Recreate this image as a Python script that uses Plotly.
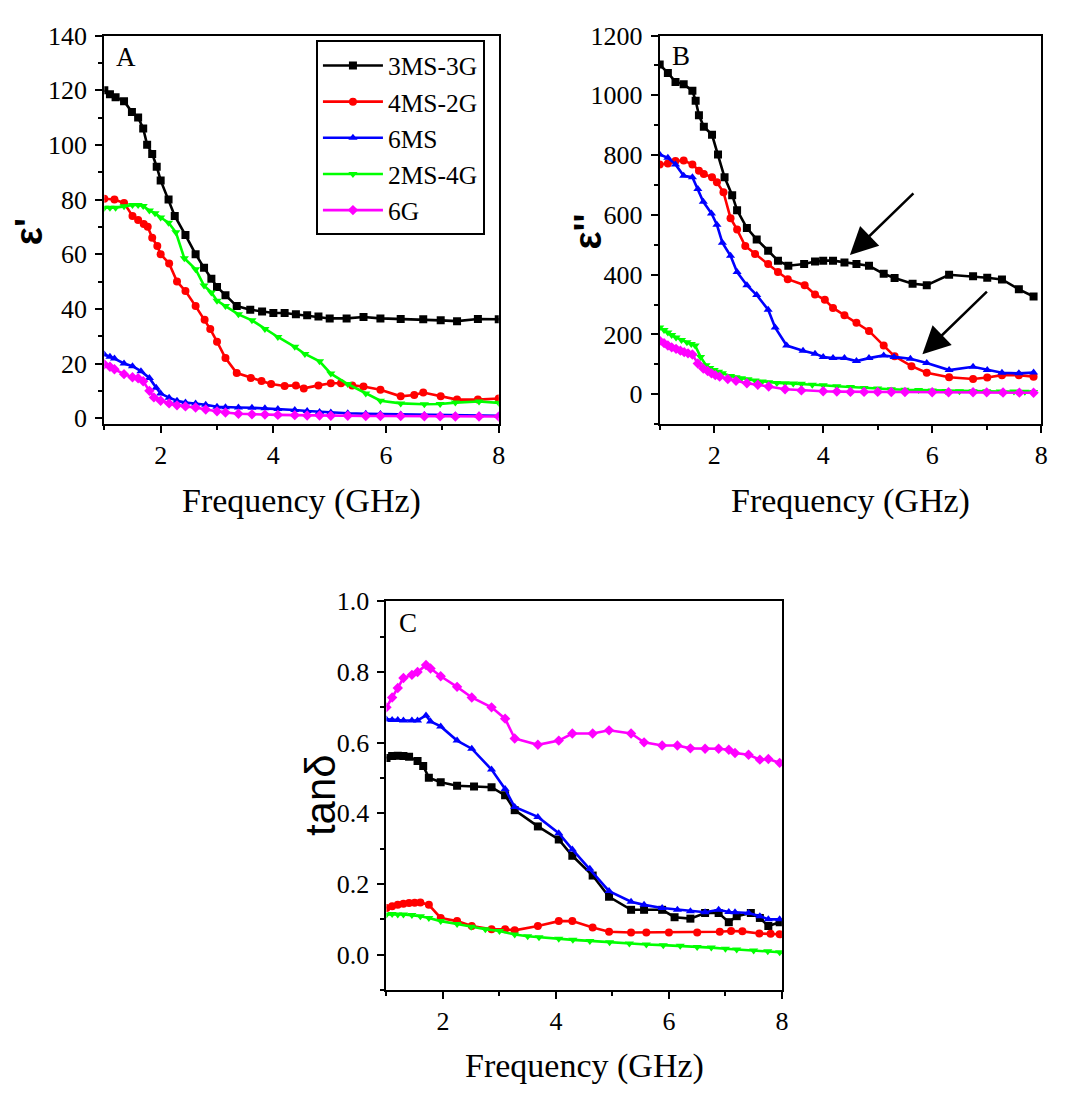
import plotly.graph_objects as go

# ---------------- Panel A: epsilon' ----------------
fa_3ms3g = [1.0,1.1,1.2,1.35,1.49,1.6,1.69,1.76,1.85,1.93,2.0,2.14,2.25,2.44,2.62,2.77,2.9,3.0,3.15,3.35,3.59,3.8,4.0,4.2,4.4,4.6,4.8,5.0,5.3,5.6,5.9,6.26,6.66,6.97,7.26,7.63,8.0]
ea_3ms3g = [120,118.5,117.4,116,112,110,106,100,96.7,92,87,80,74,67,60,55,51,48,45,41,39.7,39,38.5,38.5,38,37.7,37.2,36.5,36.5,37,36.5,36.3,36.2,35.8,35.5,36.3,36.2]

fa_4ms2g = [1.0,1.18,1.35,1.5,1.6,1.7,1.77,1.85,1.94,2.0,2.15,2.29,2.44,2.62,2.78,2.88,3.0,3.15,3.35,3.6,3.79,3.96,4.2,4.4,4.54,4.8,5.02,5.2,5.4,5.6,5.9,6.26,6.5,6.66,6.97,7.26,7.63,8.0]
ea_4ms2g = [80.3,80,78.7,74,72.5,71,70,66,63,60,56.6,50,46.5,41,36,32.6,28,22,16.5,14.7,13.6,12.5,11.8,12,10.9,12,12.8,12.8,12,11.6,10.4,8,8.5,9.4,8,6.8,6.8,7.2]

fa_6ms = [1.0,1.1,1.18,1.35,1.5,1.65,1.8,1.92,2.0,2.15,2.29,2.44,2.62,2.8,3.0,3.15,3.38,3.62,3.85,4.08,4.38,4.6,4.82,5.02,5.32,5.64,5.9,6.26,6.68,6.96,7.23,7.65,8.0]
ea_6ms = [23.3,22.5,21.8,20,19,17.2,14.7,11.1,9,7.5,6.4,5.7,5.4,4.9,4.2,4,3.9,3.8,3.6,3.4,3,2.6,2.3,2.1,1.8,1.6,1.5,1.3,1.2,1.1,1.0,1.0,0.9]

fa_2ms4g = [1.0,1.1,1.2,1.35,1.5,1.6,1.69,1.8,1.9,2.0,2.14,2.27,2.42,2.62,2.77,2.9,3.0,3.15,3.38,3.62,3.85,4.08,4.38,4.56,4.82,5.02,5.32,5.64,5.9,6.26,6.68,6.96,7.23,7.65,8.0]
ea_2ms4g = [77,77,77,77.5,78,78,77.6,76,75,73.4,71.5,68,58.5,54.5,48.5,46,43,41,38,35.8,32.6,29.7,26.1,23.5,20.8,16.3,12.5,9,6.4,5.4,5.1,5.2,5.7,6.1,5.6]

fa_6g = [1.0,1.1,1.18,1.35,1.5,1.6,1.69,1.8,1.88,2.0,2.15,2.29,2.44,2.62,2.8,3.0,3.15,3.38,3.62,3.85,4.08,4.38,4.6,4.82,5.02,5.32,5.64,5.9,6.26,6.68,6.96,7.23,7.65,8.0]
ea_6g = [19.7,18.8,17.9,16.1,15,14.6,13.5,10,7.6,6.4,5.4,4.7,4.3,3.9,3.2,2.5,2.1,1.6,1.4,1.3,1.2,1.1,1.0,1.0,0.9,0.9,0.8,0.8,0.8,0.7,0.7,0.6,0.6,0.6]

# ---------------- Panel B: epsilon'' ----------------
fb_3ms3g = [1.0,1.15,1.29,1.44,1.6,1.66,1.72,1.81,1.96,2.07,2.19,2.33,2.42,2.6,2.78,2.99,3.17,3.36,3.65,3.85,4.0,4.18,4.39,4.61,4.84,5.11,5.31,5.64,5.9,6.31,6.75,7.01,7.28,7.59,7.86]
eb_3ms3g = [1103,1075,1045,1037,1015,982,933,895,868,802,726,666,616,556,518,480,447,430,436,444,447,447,441,436,430,403,389,370,365,400,395,390,384,351,327]

fb_4ms2g = [1.0,1.15,1.29,1.44,1.6,1.72,1.81,1.96,2.05,2.17,2.3,2.42,2.57,2.75,2.99,3.17,3.35,3.66,3.85,4.03,4.18,4.39,4.61,4.84,5.11,5.31,5.62,5.9,6.31,6.75,7.01,7.28,7.59,7.86]
eb_4ms2g = [769,772,780,782,769,748,737,726,709,676,589,551,496,469,436,409,385,365,334,316,289,264,239,212,163,127,94,72,57,51,56,64,64,59]

fb_6ms = [1.0,1.15,1.29,1.44,1.6,1.7,1.8,1.95,2.05,2.15,2.3,2.42,2.6,2.78,2.99,3.12,3.33,3.63,3.85,4.0,4.18,4.39,4.61,4.84,5.11,5.3,5.6,5.9,6.31,6.75,7.01,7.28,7.59,7.86]
eb_6ms = [802,791,769,731,726,687,644,605,567,507,463,409,365,332,283,223,163,146,136,125,121,121,111,121,130,125,119,105,81,92,81,72,70,73]

fb_2ms4g = [1.0,1.08,1.15,1.22,1.3,1.4,1.5,1.58,1.65,1.75,1.85,1.92,2.0,2.08,2.15,2.3,2.4,2.5,2.62,2.75,2.88,3.0,3.15,3.3,3.45,3.6,3.8,4.0,4.25,4.5,4.75,5.0,5.25,5.5,5.75,6.0,6.25,6.5,6.75,7.0,7.25,7.5,7.7,7.86]
eb_2ms4g = [223,215,207,198,190,182,174,168,163,125,97,88,81,75,70,61,57,54,50,46,43,40,38,37,36,35,32,30,27,24,21,19,17,15,14,13,11,10,10,10,9.5,9,8.5,8]

fb_6g = [1.0,1.08,1.15,1.22,1.3,1.38,1.45,1.52,1.6,1.7,1.8,1.88,1.95,2.02,2.1,2.25,2.4,2.6,2.8,3.0,3.3,3.6,4.0,4.25,4.5,4.75,5.0,5.25,5.5,6.0,6.3,6.75,7.0,7.3,7.6,7.86]
eb_6g = [179,171,163,157,152,146,141,137,133,103,86,78,70,64,59,51,45,37,32,26,17,13,10,9,8,8,8,7.5,7.5,7,7,7,6.5,6,5.5,5]

# ---------------- Panel C: tan delta ----------------
fc_3ms3g = [1.0,1.1,1.2,1.3,1.4,1.55,1.65,1.75,1.96,2.25,2.55,2.86,3.1,3.27,3.68,4.05,4.29,4.65,4.94,5.33,5.56,5.88,6.1,6.38,6.64,6.88,7.06,7.2,7.45,7.61,7.76,7.96]
tc_3ms3g = [0.557,0.562,0.563,0.562,0.56,0.548,0.534,0.501,0.488,0.478,0.476,0.474,0.451,0.409,0.363,0.326,0.28,0.224,0.164,0.127,0.127,0.127,0.106,0.102,0.118,0.118,0.092,0.109,0.118,0.104,0.081,0.092]

fc_4ms2g = [1.0,1.1,1.2,1.3,1.4,1.5,1.6,1.75,1.96,2.25,2.51,2.86,3.1,3.27,3.68,4.05,4.29,4.65,4.94,5.33,5.6,6.0,6.5,6.9,7.1,7.3,7.6,7.8,7.96]
tc_4ms2g = [0.132,0.137,0.141,0.144,0.146,0.147,0.148,0.141,0.104,0.095,0.081,0.072,0.072,0.069,0.081,0.095,0.095,0.077,0.065,0.063,0.063,0.063,0.063,0.065,0.067,0.066,0.06,0.059,0.058]

fc_6ms = [1.0,1.1,1.2,1.3,1.45,1.55,1.7,1.78,1.96,2.25,2.51,2.86,3.1,3.27,3.68,4.05,4.29,4.6,4.94,5.33,5.56,5.88,6.15,6.38,6.64,6.88,7.06,7.17,7.41,7.61,7.76,7.96]
tc_6ms = [0.666,0.664,0.664,0.663,0.663,0.663,0.677,0.66,0.646,0.606,0.583,0.524,0.469,0.418,0.39,0.344,0.298,0.243,0.18,0.15,0.141,0.132,0.127,0.123,0.12,0.127,0.121,0.12,0.118,0.109,0.1,0.1]

fc_2ms4g = [1.0,1.1,1.2,1.3,1.45,1.6,1.75,1.96,2.25,2.5,2.75,3.0,3.27,3.5,3.7,4.05,4.3,4.6,4.95,5.3,5.6,5.9,6.2,6.5,6.75,7.0,7.2,7.5,7.75,7.96]
tc_2ms4g = [0.114,0.115,0.114,0.114,0.112,0.109,0.104,0.095,0.087,0.079,0.072,0.067,0.057,0.052,0.049,0.045,0.042,0.039,0.035,0.032,0.029,0.027,0.025,0.022,0.02,0.017,0.015,0.012,0.01,0.007]

fc_6g = [1.0,1.1,1.2,1.3,1.45,1.55,1.7,1.78,1.96,2.25,2.51,2.86,3.1,3.27,3.68,4.05,4.29,4.65,4.94,5.33,5.56,5.88,6.15,6.38,6.64,6.88,7.06,7.17,7.41,7.61,7.76,7.96]
tc_6g = [0.70,0.728,0.755,0.783,0.792,0.80,0.82,0.81,0.788,0.758,0.728,0.70,0.668,0.612,0.594,0.606,0.626,0.626,0.635,0.626,0.601,0.592,0.592,0.584,0.583,0.583,0.58,0.571,0.566,0.552,0.554,0.543]

names = ["3MS-3G", "4MS-2G", "6MS", "2MS-4G", "6G"]
colors = ["#000000", "#FF0000", "#0000FF", "#00FF00", "#FF00FF"]
symbols = ["square", "circle", "triangle-up", "triangle-down", "diamond"]

panelA = [(fa_3ms3g, ea_3ms3g), (fa_4ms2g, ea_4ms2g), (fa_6ms, ea_6ms), (fa_2ms4g, ea_2ms4g), (fa_6g, ea_6g)]
panelB = [(fb_3ms3g, eb_3ms3g), (fb_4ms2g, eb_4ms2g), (fb_6ms, eb_6ms), (fb_2ms4g, eb_2ms4g), (fb_6g, eb_6g)]
panelC = [(fc_3ms3g, tc_3ms3g), (fc_4ms2g, tc_4ms2g), (fc_6ms, tc_6ms), (fc_2ms4g, tc_2ms4g), (fc_6g, tc_6g)]

W, H = 1080, 1093
fig = go.Figure()

for panel, (xa, ya), show in [(panelA, ("x", "y"), True), (panelB, ("x2", "y2"), False), (panelC, ("x3", "y3"), False)]:
    for i, (xs, ys) in enumerate(panel):
        fig.add_trace(go.Scatter(
            x=xs, y=ys, mode="lines+markers", name=names[i],
            line=dict(color=colors[i], width=2.6),
            marker=dict(symbol=symbols[i], size=8, color=colors[i]),
            xaxis=xa, yaxis=ya, showlegend=show,
        ))

tickfont = dict(family="Liberation Serif", size=26, color="black")

def xax(domain, anchor):
    return dict(domain=domain, anchor=anchor, range=[1, 8], tick0=0, dtick=2,
                showline=True, linecolor="black", linewidth=2, mirror=True,
                ticks="outside", ticklen=7, tickwidth=2, tickcolor="black",
                minor=dict(ticks="outside", ticklen=4, tickwidth=2, tickcolor="black", dtick=1, tick0=0),
                showgrid=False, zeroline=False, tickfont=tickfont)

def yax(domain, anchor, rng, dtick, mdtick, fmt=None):
    d = dict(domain=domain, anchor=anchor, range=rng, tick0=0, dtick=dtick,
             showline=True, linecolor="black", linewidth=2, mirror=True,
             ticks="outside", ticklen=7, tickwidth=2, tickcolor="black",
             minor=dict(ticks="outside", ticklen=4, tickwidth=2, tickcolor="black", dtick=mdtick, tick0=0),
             showgrid=False, zeroline=False, tickfont=tickfont, ticklabelstandoff=3)
    if fmt:
        d["tickformat"] = fmt
    return d

def px(xp):
    return xp / W

def py(yp):
    return 1 - yp / H

yA = [py(419), py(22)]
yC = [py(997), py(600)]

fig.update_layout(
    width=W, height=H, margin=dict(l=0, r=0, t=0, b=0),
    paper_bgcolor="white", plot_bgcolor="white",
    xaxis=xax([px(105), px(502)], "y"),
    yaxis=yax(yA, "x", [-2.2, 140], 20, 10),
    xaxis2=xax([px(664), px(1048)], "y2"),
    yaxis2=yax(yA, "x2", [-100, 1200], 200, 100),
    xaxis3=xax([px(389), px(787)], "y3"),
    yaxis3=yax(yC, "x3", [-0.1, 1.0], 0.2, 0.1, ".1f"),
    legend=dict(x=px(318), y=py(27), xanchor="left", yanchor="top",
                bordercolor="black", borderwidth=2, bgcolor="white",
                font=dict(family="Liberation Serif", size=25.5, color="black"),
                itemwidth=60, tracegroupgap=0),
    showlegend=True,
)

serif = "Liberation Serif"
ann = []
# x-axis titles
for cx, cy in [(303, 497), (856, 497), (588, 1075)]:
    ann.append(dict(text="Frequency (GHz)", x=px(cx), y=py(cy), xref="paper", yref="paper",
                    xanchor="center", yanchor="middle", showarrow=False,
                    font=dict(family=serif, size=34, color="black")))
# y-axis titles
ann.append(dict(text="<b>ε'</b>", x=px(30), y=py(222), xref="paper", yref="paper", textangle=-90,
                xanchor="center", yanchor="middle", showarrow=False,
                font=dict(family="Liberation Sans", size=38, color="black")))
ann.append(dict(text="<b>ε''</b>", x=px(592), y=py(222), xref="paper", yref="paper", textangle=-90,
                xanchor="center", yanchor="middle", showarrow=False,
                font=dict(family="Liberation Sans", size=38, color="black")))
ann.append(dict(text="tanδ", x=px(322), y=py(798), xref="paper", yref="paper", textangle=-90,
                xanchor="center", yanchor="middle", showarrow=False,
                font=dict(family="Liberation Sans", size=42, color="black")))
# panel letters
for t, cx, cy in [("A", 127, 44), ("B", 685, 43), ("C", 411, 622)]:
    ann.append(dict(text=t, x=px(cx), y=py(cy), xref="paper", yref="paper",
                    xanchor="center", yanchor="middle", showarrow=False,
                    font=dict(family=serif, size=27, color="black")))
# arrows in panel B
ann.append(dict(text="", x=4.49, y=466, xref="x2", yref="y2", ax=65, ay=-63,
                showarrow=True, arrowhead=2, arrowsize=2.2, arrowwidth=2.5, arrowcolor="black"))
ann.append(dict(text="", x=5.82, y=134, xref="x2", yref="y2", ax=66, ay=-64,
                showarrow=True, arrowhead=2, arrowsize=2.2, arrowwidth=2.5, arrowcolor="black"))

fig.update_layout(annotations=ann)
fig.write_html("out.html")
